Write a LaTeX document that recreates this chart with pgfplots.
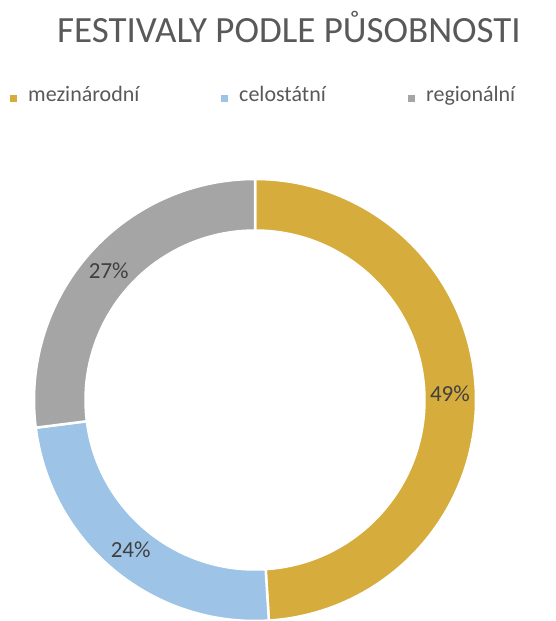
\documentclass[border=0pt]{standalone}
\usepackage{fontspec}
\setmainfont{Carlito}
\usepackage{pgfplots}
\usepackage{pgfplotstable}
\pgfplotsset{compat=1.18}

\definecolor{c0}{HTML}{D6AD3C}
\definecolor{c1}{HTML}{9DC3E6}
\definecolor{c2}{HTML}{A5A5A5}
\definecolor{txtgray}{HTML}{595959}
\definecolor{lblgray}{HTML}{404040}

% share of festivals by scope (percent)
\pgfplotstableread{
label value
mezinárodní 49
celostátní 24
regionální 27
}\festdata

\begin{document}
\begin{tikzpicture}
  \begin{axis}[
      x=1pt, y=1pt,
      xmin=0, xmax=556,
      ymin=0, ymax=621,
      hide axis,
      clip=false,
    ]
    \coordinate (bl) at (axis cs:0,0);
    \coordinate (tr) at (axis cs:556,621);
    % title and legend
    \node[text=txtgray, font=\fontsize{37}{42}\selectfont, anchor=base]
      at (axis cs:289,578) {FESTIVALY PODLE PŮSOBNOSTI};
    \def\startang{90}
    \pgfplotsforeachungrouped \i/\lx in {0/10, 1/221, 2/408}{
      \pgfplotstablegetelem{\i}{label}\of\festdata
      \edef\temp{\noexpand\fill[c\i] (axis cs:\lx,519) rectangle (axis cs:\lx+7,526);
        \noexpand\node[text=txtgray, font=\noexpand\fontsize{22}{26}\noexpand\selectfont, anchor=base west, inner sep=0pt]
          at (axis cs:\lx+18,519) {\pgfplotsretval};}
      \temp
    }
    % donut segments, clockwise from the top
    \pgfplotsforeachungrouped \i in {0,1,2}{
      \pgfplotstablegetelem{\i}{value}\of\festdata
      \pgfmathsetmacro\endang{\startang-3.6*\pgfplotsretval}
      \pgfmathsetmacro\midang{(\startang+\endang)/2}
      \edef\temp{\noexpand\fill[c\i, draw=white, line width=2.5pt]
          ([shift={(\startang:221)}]axis cs:255,221) arc[start angle=\startang, end angle=\endang, radius=221]
          -- ([shift={(\endang:169.5)}]axis cs:255,221) arc[start angle=\endang, end angle=\startang, radius=169.5] -- cycle;
        \noexpand\node[text=lblgray, font=\noexpand\fontsize{23}{26}\noexpand\selectfont]
          at ([shift={(\midang:195)}]axis cs:255,221) {\pgfplotsretval\%};}
      \temp
      \global\let\startang\endang
    }
  \end{axis}
  \pgfresetboundingbox
  \useasboundingbox (bl) rectangle (tr);
\end{tikzpicture}
\end{document}
